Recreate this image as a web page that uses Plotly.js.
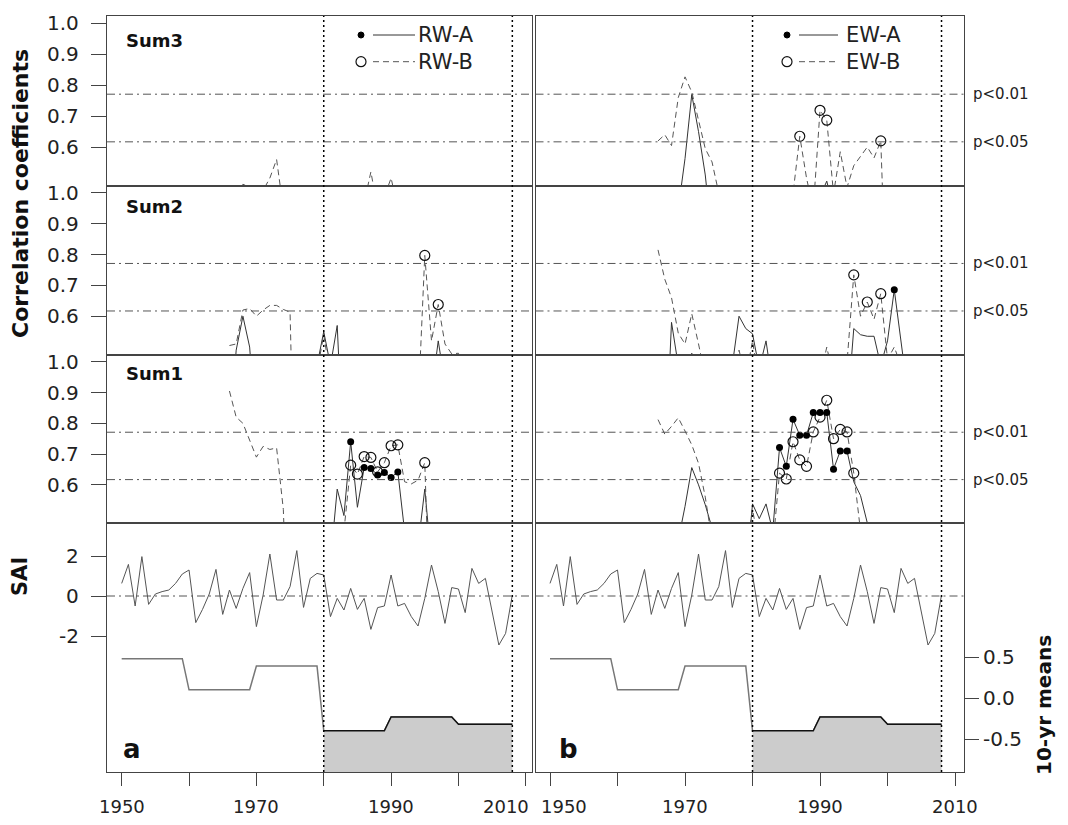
<!DOCTYPE html>
<html><head><meta charset="utf-8">
<script src="https://cdn.plot.ly/plotly-3.0.1.min.js"></script>
<style>html,body{margin:0;padding:0;background:#fff}#chart{width:1068px;height:825px}</style>
</head><body><div id="chart"></div>
<script>
// ---------------- DATA ----------------
const YEARS_SAI = [1950,1951,1952,1953,1954,1955,1956,1957,1958,1959,
  1960,1961,1962,1963,1964,1965,1966,1967,1968,1969,
  1970,1971,1972,1973,1974,1975,1976,1977,1978,1979,
  1980,1981,1982,1983,1984,1985,1986,1987,1988,1989,
  1990,1991,1992,1993,1994,1995,1996,1997,1998,1999,
  2000,2001,2002,2003,2004,2005,2006,2007,2008];
const SAI = [0.63,1.58,-0.50,1.97,-0.42,0.10,0.22,0.30,0.63,1.10,
  1.30,-1.33,-0.67,0.10,1.33,-0.92,0.30,-0.62,0.38,1.17,
  -1.53,0.05,2.10,-0.20,-0.20,0.47,2.27,-0.57,0.88,1.13,
  1.05,-1.03,-0.12,-0.70,0.38,-0.67,-0.12,-1.67,-0.58,-0.50,
  1.05,-0.50,-0.37,-1.03,-1.50,-0.12,1.55,0.22,-1.37,0.42,
  0.35,-0.83,1.38,0.63,0.88,-0.87,-2.45,-1.87,0.05];
const MEANS_10YR = [0.48,0.48,0.48,0.48,0.48,0.48,0.48,0.48,0.48,0.48,
  0.10,0.10,0.10,0.10,0.10,0.10,0.10,0.10,0.10,0.10,
  0.39,0.39,0.39,0.39,0.39,0.39,0.39,0.39,0.39,0.39,
  -0.40,-0.40,-0.40,-0.40,-0.40,-0.40,-0.40,-0.40,-0.40,-0.40,
  -0.23,-0.23,-0.23,-0.23,-0.23,-0.23,-0.23,-0.23,-0.23,-0.23,
  -0.32,-0.32,-0.32,-0.32,-0.32,-0.32,-0.32,-0.32,-0.32];

const YEARS_COR = [1966,1967,1968,1969,1970,1971,1972,1973,1974,1975,
  1976,1977,1978,1979,1980,1981,1982,1983,1984,1985,
  1986,1987,1988,1989,1990,1991,1992,1993,1994,1995,
  1996,1997,1998,1999,2000,2001,2002,2003];

const RW_A_SUM3 = [0.30,0.35,0.40,0.38,0.33,0.30,0.36,0.42,0.35,0.28,
  0.22,0.18,0.20,0.25,0.30,0.27,0.24,0.30,0.33,0.36,
  0.40,0.44,0.38,0.40,0.42,0.37,0.33,0.30,0.34,0.38,
  0.40,0.42,0.39,0.35,0.32,0.30,0.28,0.26];
const RW_B_SUM3 = [0.42,0.44,0.48,0.47,0.43,0.46,0.50,0.56,0.40,0.35,
  0.30,0.28,0.25,0.30,0.33,0.30,0.28,0.32,0.35,0.38,
  0.42,0.52,0.40,0.44,0.50,0.40,0.38,0.35,0.40,0.43,
  0.45,0.48,0.44,0.40,0.38,0.35,0.33,0.30];
const RW_A_SUM2 = [0.20,0.49,0.60,0.50,0.20,0.15,0.20,0.25,0.30,0.28,
  0.22,0.25,0.30,0.44,0.55,0.44,0.57,0.10,0.20,0.25,
  0.30,0.28,0.25,0.30,0.35,0.30,0.28,0.32,0.36,0.40,
  0.35,0.52,0.38,0.32,0.30,0.28,0.25,0.22];
const RW_B_SUM2 = [0.505,0.51,0.62,0.625,0.60,0.62,0.635,0.635,0.622,0.613,
  -0.30,-0.10,0.10,0.42,0.54,0.40,0.30,0.25,0.20,0.25,
  0.30,0.28,0.25,0.22,0.25,0.28,0.25,0.20,0.30,0.797,
  0.52,0.638,0.51,0.478,0.48,0.40,0.35,0.30];
const RW_A_SUM1 = [0.20,0.25,0.30,0.28,0.25,0.22,0.20,0.25,0.28,0.30,
  0.25,0.22,0.28,0.32,0.30,0.35,0.586,0.50,0.74,0.527,
  0.656,0.653,0.632,0.64,0.624,0.642,0.45,0.30,0.40,0.586,
  0.35,0.30,0.28,0.25,0.22,0.20,0.22,0.20];
const RW_B_SUM1 = [0.905,0.82,0.80,0.745,0.69,0.725,0.715,0.72,0.52,-0.10,
  0.00,0.10,0.15,0.20,0.25,0.30,0.35,0.45,0.664,0.635,
  0.692,0.689,0.642,0.672,0.727,0.73,0.61,0.603,0.615,0.672,
  0.00,0.10,0.20,0.25,0.22,0.20,0.18,0.15];

const EW_A_SUM3 = [0.20,0.25,0.30,0.40,0.563,0.77,0.65,0.51,0.30,0.25,
  0.20,0.22,0.25,0.28,0.30,0.32,0.30,0.28,0.30,0.35,
  0.38,0.40,0.42,0.40,0.44,0.49,0.40,0.38,0.35,0.33,
  0.35,0.38,0.36,0.34,0.30,0.28,0.25,0.22];
const EW_B_SUM3 = [0.62,0.64,0.605,0.76,0.827,0.778,0.687,0.595,0.552,0.443,
  0.30,0.25,0.22,0.25,0.28,0.30,0.27,0.25,0.30,0.35,
  0.45,0.635,0.50,0.40,0.719,0.687,0.45,0.585,0.47,0.54,
  0.57,0.60,0.565,0.62,0.00,0.10,0.15,0.20];
const EW_A_SUM2 = [0.20,0.10,0.58,0.46,0.30,0.48,0.35,0.30,0.28,0.30,
  0.35,0.44,0.60,0.56,0.543,0.43,0.52,0.37,0.25,0.28,
  0.30,0.32,0.35,0.38,0.40,0.42,0.38,0.32,0.28,0.56,
  0.54,0.535,0.535,0.44,0.52,0.686,0.53,0.35];
const EW_B_SUM2 = [0.815,0.72,0.66,0.545,0.51,0.608,0.51,0.40,0.30,0.25,
  0.28,0.35,0.49,0.40,0.52,0.38,0.30,0.25,0.22,0.25,
  0.28,0.30,0.33,0.36,0.40,0.50,0.40,0.30,0.45,0.734,
  0.60,0.646,0.59,0.673,0.46,0.50,0.44,0.35];
const EW_A_SUM1 = [0.20,0.22,0.25,0.42,0.53,0.656,0.60,0.535,0.46,0.30,
  0.20,0.15,0.20,0.30,0.538,0.49,0.538,0.45,0.721,0.66,
  0.813,0.761,0.761,0.835,0.835,0.835,0.651,0.71,0.71,0.61,
  0.565,0.47,0.35,0.30,0.25,0.22,0.20,0.20];
const EW_B_SUM1 = [0.812,0.765,0.79,0.818,0.775,0.73,0.67,0.56,0.42,0.30,
  0.25,0.22,0.25,0.35,0.52,0.40,0.35,0.40,0.638,0.619,
  0.74,0.681,0.66,0.772,0.82,0.875,0.75,0.78,0.772,0.638,
  0.45,0.30,0.25,0.22,0.20,0.18,0.15,0.15];

const P01 = 0.771, P05 = 0.617;          // significance levels
const PERIOD = [1980, 2008];             // marked period
const COR_TICKS = [0.6, 0.7, 0.8, 0.9, 1.0];
const COR_TICKTEXT = ['0.6','0.7','0.8','0.9','1.0'];
const SAI_TICKS = [-2, 0, 2];
const SAI_TICKTEXT = ['-2','0','2'];
const MEAN_TICKS = [-0.5, 0, 0.5];
const MEAN_TICKTEXT = ['-0.5','0.0','0.5'];
const X_TICKS = [1950,1960,1970,1980,1990,2000,2010];
const X_LABELS = [1950,1970,1990,2010];
const ROW_NAMES = ['Sum3','Sum2','Sum1'];
const LEGEND_LEFT = ['RW-A','RW-B'];
const LEGEND_RIGHT = ['EW-A','EW-B'];

// ---------------- GEOMETRY / STYLE ----------------
const W = 1068, H = 825;
const px = x => x / W, py = y => 1 - y / H;
const COL_PX = [[107, 532], [535.5, 964]];
const ROW_PX = [[16, 185.5], [185.5, 354.5], [354.5, 523], [523, 772]];
const X_RANGE = [[1947.82, 2010.92], [1947.85, 2011.33]];
const COR_RANGE = [0.4759, 1.0237];
const SAI_RANGE = [-8.8, 3.65];
const MEAN_RANGE = [-0.902, 2.134];
const FILL_FLOOR = -2;
const FONT = 'DejaVu Sans, Liberation Sans, Arial, sans-serif';
const AXC = '#444';
const DASH_B = '6px,4px';
const DASH_DOT = '8px,4px,2px,4px';
const LEFT_LABEL_RIGHT_EDGE = 81;

const panels = [
  {r:0,c:0,A:RW_A_SUM3,B:RW_B_SUM3},{r:0,c:1,A:EW_A_SUM3,B:EW_B_SUM3},
  {r:1,c:0,A:RW_A_SUM2,B:RW_B_SUM2},{r:1,c:1,A:EW_A_SUM2,B:EW_B_SUM2},
  {r:2,c:0,A:RW_A_SUM1,B:RW_B_SUM1},{r:2,c:1,A:EW_A_SUM1,B:EW_B_SUM1}
];
const idx = (r, c) => r * 2 + c + 1;
const xn = i => 'x' + (i === 1 ? '' : i);
const yn = i => 'y' + (i === 1 ? '' : i);

function significant(years, vals) {
  const x = [], y = [];
  years.forEach((yr, k) => {
    if (yr >= PERIOD[0] && yr <= PERIOD[1] && vals[k] >= P05) { x.push(yr); y.push(vals[k]); }
  });
  return {x, y};
}

const traces = [];
panels.forEach(p => {
  const i = idx(p.r, p.c);
  traces.push({x: YEARS_COR, y: p.A, xaxis: xn(i), yaxis: yn(i), mode: 'lines',
    line: {color: '#333', width: 1}, hoverinfo: 'skip'});
  traces.push({x: YEARS_COR, y: p.B, xaxis: xn(i), yaxis: yn(i), mode: 'lines',
    line: {color: '#555', width: 1, dash: DASH_B}, hoverinfo: 'skip'});
  const sa = significant(YEARS_COR, p.A), sb = significant(YEARS_COR, p.B);
  traces.push({x: sb.x, y: sb.y, xaxis: xn(i), yaxis: yn(i), mode: 'markers',
    marker: {symbol: 'circle-open', size: 10, color: '#111', line: {width: 1.2}}, hoverinfo: 'skip'});
  traces.push({x: sa.x, y: sa.y, xaxis: xn(i), yaxis: yn(i), mode: 'markers',
    marker: {symbol: 'circle', size: 7, color: '#000'}, hoverinfo: 'skip'});
});

const postYears = YEARS_SAI.filter(y => y >= PERIOD[0] && y <= PERIOD[1]);
const postMeans = MEANS_10YR.filter((v, k) => YEARS_SAI[k] >= PERIOD[0] && YEARS_SAI[k] <= PERIOD[1]);
[0, 1].forEach(c => {
  const i = idx(3, c);
  const my = c === 0 ? 'y9' : 'y10';
  traces.push({x: YEARS_SAI, y: SAI, xaxis: xn(i), yaxis: yn(i), mode: 'lines',
    line: {color: '#555', width: 1}, hoverinfo: 'skip'});
  traces.push({x: YEARS_SAI, y: MEANS_10YR, xaxis: xn(i), yaxis: my, mode: 'lines',
    line: {color: '#777', width: 1.5}, hoverinfo: 'skip'});
  traces.push({x: postYears, y: postYears.map(() => FILL_FLOOR), xaxis: xn(i), yaxis: my, mode: 'lines',
    line: {width: 0, color: 'rgba(0,0,0,0)'}, hoverinfo: 'skip'});
  traces.push({x: postYears, y: postMeans, xaxis: xn(i), yaxis: my, mode: 'lines', fill: 'tonexty',
    fillcolor: '#cccccc', line: {color: '#111', width: 1.5}, hoverinfo: 'skip'});
});

const layout = {
  width: W, height: H, margin: {l: 0, r: 0, t: 0, b: 0},
  paper_bgcolor: '#fff', plot_bgcolor: 'rgba(0,0,0,0)', showlegend: false,
  font: {family: FONT, color: '#222'},
  shapes: [], annotations: []
};
const tickfont = {family: FONT, size: 20, color: '#222'};

for (let r = 0; r < 4; r++) for (let c = 0; c < 2; c++) {
  const i = idx(r, c);
  layout['xaxis' + (i === 1 ? '' : i)] = {
    domain: [px(COL_PX[c][0]), px(COL_PX[c][1])], range: X_RANGE[c], anchor: yn(i),
    showline: true, mirror: true, linecolor: AXC, linewidth: 1, showgrid: false, zeroline: false,
    ticks: r === 3 ? 'outside' : '', ticklen: 13, tickcolor: AXC, tickwidth: 1,
    tickvals: r === 3 ? X_TICKS : [], showticklabels: false, fixedrange: true
  };
  const tv = c === 0 ? (r < 3 ? COR_TICKS : SAI_TICKS) : [];
  layout['yaxis' + (i === 1 ? '' : i)] = {
    domain: [py(ROW_PX[r][1]), py(ROW_PX[r][0])], range: r < 3 ? COR_RANGE : SAI_RANGE, anchor: xn(i),
    showline: true, mirror: true, linecolor: AXC, linewidth: 1, showgrid: false, zeroline: false,
    ticks: c === 0 ? 'outside' : '', ticklen: 15, tickcolor: AXC, tickwidth: 1,
    tickvals: tv, showticklabels: false, fixedrange: true
  };
  if (c === 0) {
    const tt = r < 3 ? COR_TICKTEXT : SAI_TICKTEXT;
    tv.forEach((v, k) => layout.annotations.push({xref: 'paper', yref: yn(i), x: px(LEFT_LABEL_RIGHT_EDGE), y: v,
      xanchor: 'right', yanchor: 'middle', text: tt[k], showarrow: false, font: tickfont}));
  }
}
layout.yaxis9 = {overlaying: 'y7', anchor: 'x7', range: MEAN_RANGE, visible: false, fixedrange: true};
layout.yaxis10 = {overlaying: 'y8', anchor: 'x8', side: 'right', range: MEAN_RANGE,
  showline: false, showgrid: false, zeroline: false, ticks: 'outside', ticklen: 14, tickcolor: AXC,
  tickvals: MEAN_TICKS, ticktext: MEAN_TICKTEXT, tickfont: tickfont, fixedrange: true};

// reference lines
for (let r = 0; r < 3; r++) for (let c = 0; c < 2; c++) {
  const i = idx(r, c);
  [P01, P05].forEach(v => layout.shapes.push({type: 'line', xref: xn(i) + ' domain', yref: yn(i),
    x0: 0, x1: 1, y0: v, y1: v, line: {color: '#555', width: 1, dash: DASH_DOT}}));
}
[0, 1].forEach(c => {
  const i = idx(3, c);
  layout.shapes.push({type: 'line', xref: xn(i) + ' domain', yref: yn(i), x0: 0, x1: 1, y0: 0, y1: 0,
    line: {color: '#555', width: 1, dash: DASH_DOT}});
  PERIOD.forEach(yr => layout.shapes.push({type: 'line', xref: xn(i), yref: 'paper', x0: yr, x1: yr,
    y0: py(ROW_PX[3][1]), y1: py(ROW_PX[0][0]), line: {color: '#000', width: 1.5, dash: '2px,3px'}}));
});

// p labels on the right
for (let r = 0; r < 3; r++) {
  const i = idx(r, 1);
  [[P01, 'p<0.01'], [P05, 'p<0.05']].forEach(([v, t]) => layout.annotations.push({
    xref: 'paper', yref: yn(i), x: px(971), y: v, xanchor: 'left', yanchor: 'middle',
    text: t, showarrow: false, font: {family: FONT, size: 15, color: '#222'}}));
}
// row labels
const ROW_LABEL_Y = [40.5, 206, 373];
ROW_NAMES.forEach((t, r) => layout.annotations.push({xref: 'paper', yref: 'paper', x: px(124), y: py(ROW_LABEL_Y[r]),
  xanchor: 'left', yanchor: 'middle', text: '<b>' + t + '</b>', showarrow: false,
  font: {family: FONT, size: 18, color: '#111'}}));
// panel letters
[['a', 121], ['b', 557]].forEach(([t, x]) => layout.annotations.push({xref: 'paper', yref: 'paper',
  x: px(x), y: py(766), xanchor: 'left', yanchor: 'bottom', text: '<b>' + t + '</b>', showarrow: false,
  font: {family: FONT, size: 26, color: '#111'}}));
// x labels
const XLAB_SHIFT = {'0-2010': -20, '1-1950': 14};
[0, 1].forEach(c => X_LABELS.forEach(yr => layout.annotations.push({
  xref: xn(idx(3, c)), yref: 'paper', x: yr, y: py(806), xanchor: 'center', yanchor: 'middle',
  xshift: XLAB_SHIFT[c + '-' + yr] || 0, text: String(yr), showarrow: false,
  font: {family: FONT, size: 18, color: '#222'}})));
// axis titles
layout.annotations.push({xref: 'paper', yref: 'paper', x: px(21), y: py(194), xanchor: 'center', yanchor: 'middle',
  textangle: -90, text: '<b>Correlation coefficients</b>', showarrow: false, font: {family: FONT, size: 22, color: '#111'}});
layout.annotations.push({xref: 'paper', yref: 'paper', x: px(20), y: py(577), xanchor: 'center', yanchor: 'middle',
  textangle: -90, text: '<b>SAI</b>', showarrow: false, font: {family: FONT, size: 21, color: '#111'}});
layout.annotations.push({xref: 'paper', yref: 'paper', x: px(1044), y: py(705), xanchor: 'center', yanchor: 'middle',
  textangle: -90, text: '<b>10-yr means</b>', showarrow: false, font: {family: FONT, size: 20, color: '#111'}});

// legends
function legend(names, dotX, lineX0, lineX1, textX) {
  const rows = [35, 61.7];
  layout.shapes.push({type: 'circle', xref: 'paper', yref: 'paper', x0: px(dotX - 3), x1: px(dotX + 3),
    y0: py(rows[0] + 3), y1: py(rows[0] - 3), fillcolor: '#000', line: {color: '#000', width: 1}});
  layout.shapes.push({type: 'line', xref: 'paper', yref: 'paper', x0: px(lineX0), x1: px(lineX1),
    y0: py(rows[0]), y1: py(rows[0]), line: {color: '#333', width: 1}});
  layout.shapes.push({type: 'circle', xref: 'paper', yref: 'paper', x0: px(dotX - 5), x1: px(dotX + 5),
    y0: py(rows[1] + 5), y1: py(rows[1] - 5), line: {color: '#111', width: 1.2}});
  layout.shapes.push({type: 'line', xref: 'paper', yref: 'paper', x0: px(lineX0), x1: px(lineX1),
    y0: py(rows[1]), y1: py(rows[1]), line: {color: '#555', width: 1, dash: DASH_B}});
  names.forEach((t, k) => layout.annotations.push({xref: 'paper', yref: 'paper', x: px(textX), y: py(rows[k]),
    xanchor: 'left', yanchor: 'middle', text: t, showarrow: false, font: {family: FONT, size: 21, color: '#222'}}));
}
legend(LEGEND_LEFT, 361, 373, 415, 416);
legend(LEGEND_RIGHT, 787, 799, 838, 844);

Plotly.newPlot('chart', traces, layout, {staticPlot: true, displayModeBar: false});
</script></body></html>
